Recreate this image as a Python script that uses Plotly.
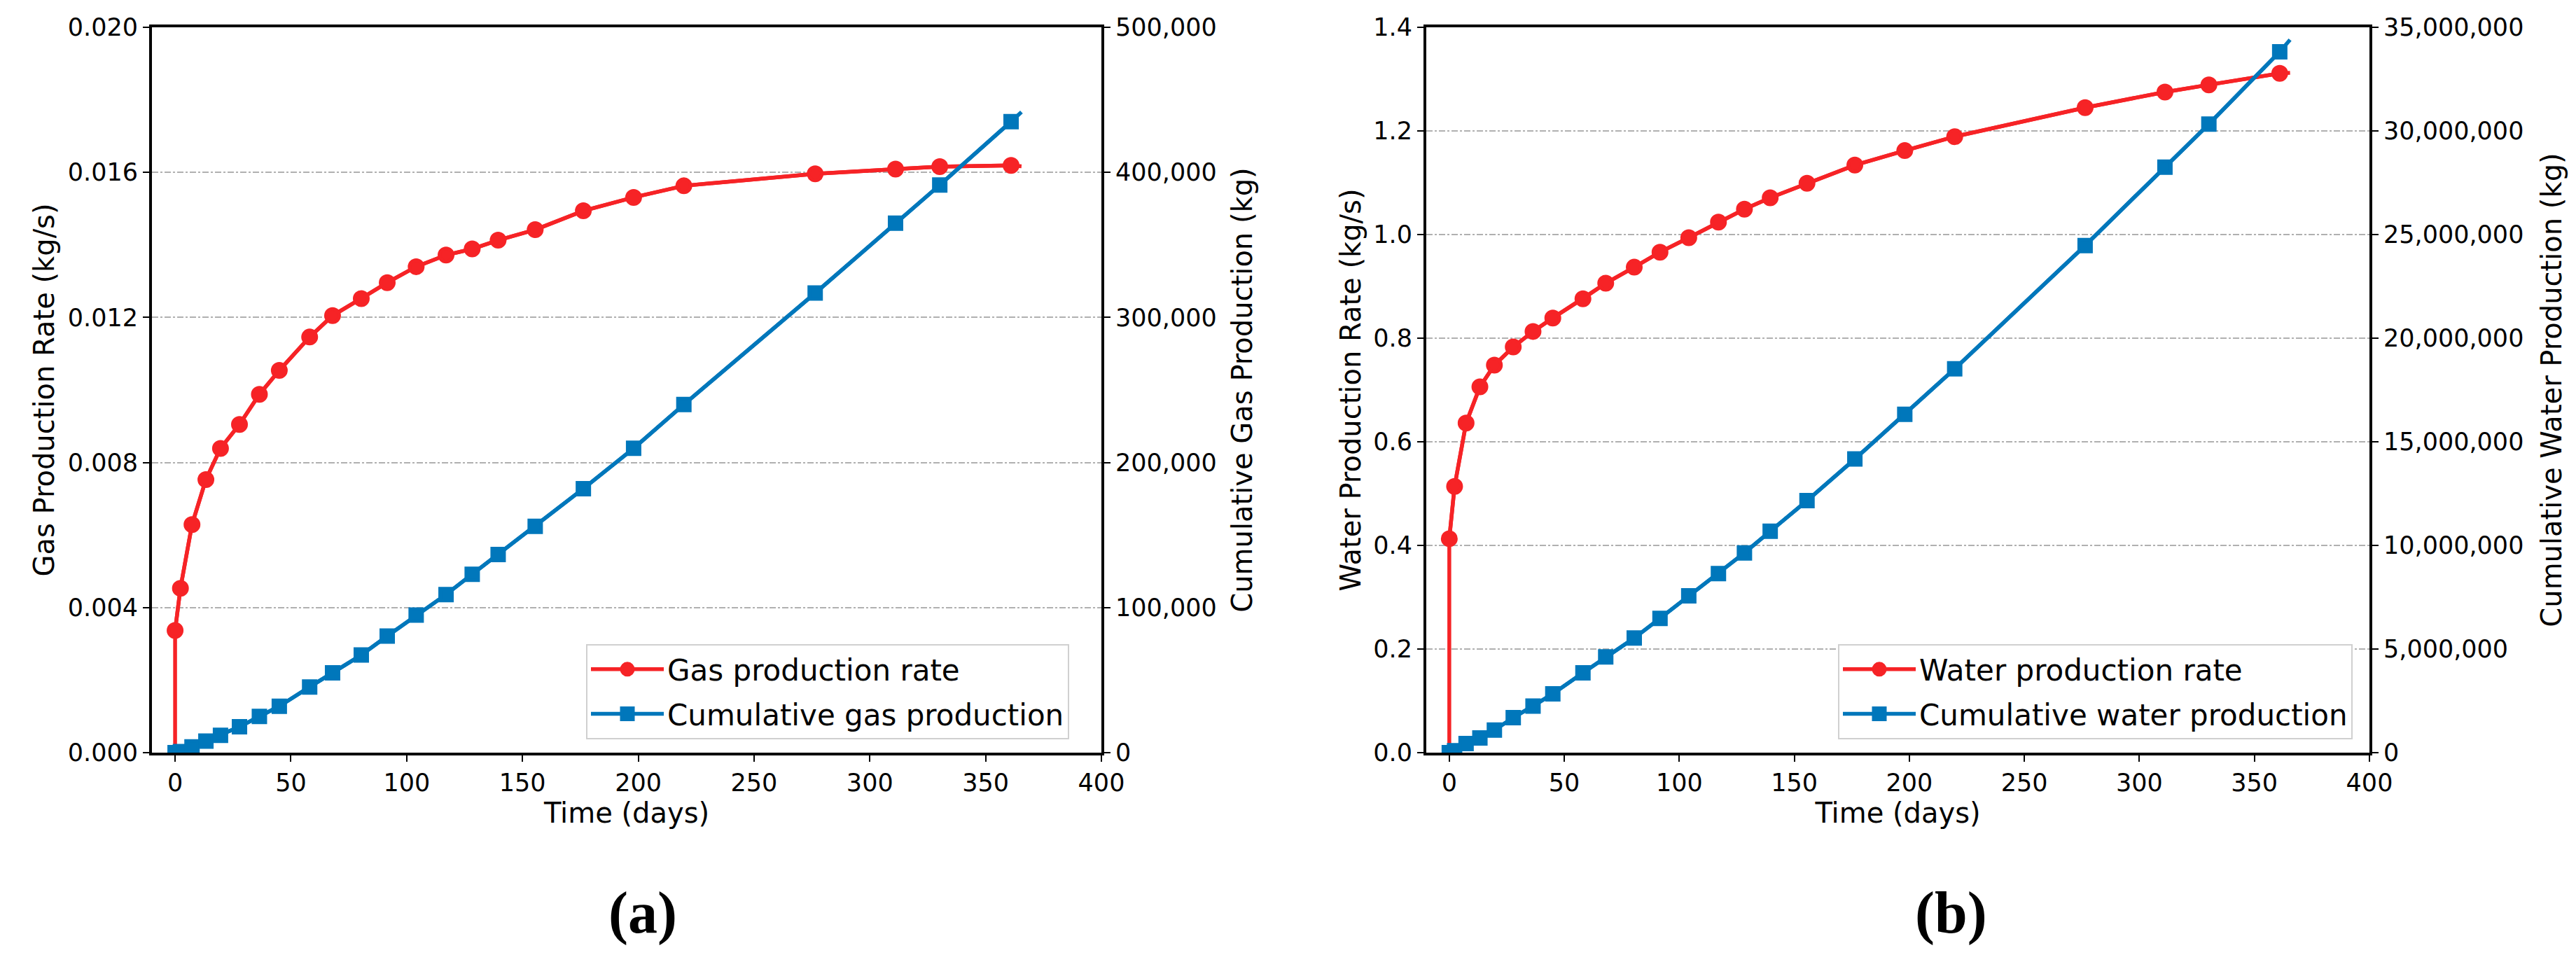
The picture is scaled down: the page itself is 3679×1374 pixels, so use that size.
import plotly.graph_objects as go
from plotly.subplots import make_subplots

# ---------------- data ----------------
time_days = [0, 2.3, 7.3, 13.3, 19.6, 27.8, 36.4, 45.0, 58.1, 68.0, 80.4, 91.6,
             104.1, 117.0, 128.3, 139.5, 155.5, 176.3, 198.0, 219.7, 276.4,
             311.1, 330.2, 361.0]
time_end = 365.5

gas_rate = [0.00337, 0.00453, 0.00629, 0.00753, 0.00839, 0.00905, 0.00988,
            0.01054, 0.01146, 0.01205, 0.01252, 0.01296, 0.01340, 0.01372,
            0.01389, 0.01413, 0.01442, 0.01494, 0.01531, 0.01563, 0.01596,
            0.01609, 0.01616, 0.01619]
gas_rate_end = 0.01617

gas_cum = [0, 700, 4000, 8000, 12000, 17800, 25000, 32000, 45300, 55000,
           67300, 80400, 94800, 109000, 123000, 136600, 156000, 182000,
           209800, 240000, 316800, 365000, 391300, 435000]
gas_cum_end = 441600

water_rate = [0.413, 0.514, 0.636, 0.706, 0.748, 0.783, 0.813, 0.839, 0.876,
              0.906, 0.937, 0.966, 0.994, 1.024, 1.049, 1.071, 1.099, 1.134,
              1.162, 1.189, 1.245, 1.275, 1.289, 1.311]
water_rate_end = 1.312

water_cum = [0, 90000, 440000, 710000, 1090000, 1690000, 2250000, 2840000,
             3850000, 4620000, 5530000, 6480000, 7570000, 8640000, 9640000,
             10680000, 12160000, 14170000, 16330000, 18520000, 24470000,
             28250000, 30330000, 33820000]
water_cum_end = 34400000

x_ticks = [0, 50, 100, 150, 200, 250, 300, 350, 400]
gas_rate_ticks = [0.000, 0.004, 0.008, 0.012, 0.016, 0.020]
gas_cum_ticks = [0, 100000, 200000, 300000, 400000, 500000]
water_rate_ticks = [0.0, 0.2, 0.4, 0.6, 0.8, 1.0, 1.2, 1.4]
water_cum_ticks = [0, 5000000, 10000000, 15000000, 20000000, 25000000,
                   30000000, 35000000]

# ---------------- style ----------------
W, H = 3679, 1374
OFF = 8  # page body margin of the browser
RED = "#F62326"
BLUE = "#0077BB"
FONT = "DejaVu Sans"
TICK_SIZE = 35
TITLE_SIZE = 40
LEG_SIZE = 42
LW = 5.5
MLW = 5

def px_x(p):
    return (p - OFF) / W

def px_y(p):
    return 1 - (p - OFF) / H

fig = make_subplots(rows=1, cols=2,
                    specs=[[{"secondary_y": True}, {"secondary_y": True}]])

def add_pair(col, rate, rate_end, cum, cum_end, rate_name, cum_name, legend):
    t_rate_line = [0] + time_days + [time_end]
    r_line = [0] + rate + [rate_end]
    t_cum_line = time_days + [time_end]
    c_line = cum + [cum_end]
    g1 = legend + "_rate"
    g2 = legend + "_cum"
    fig.add_trace(go.Scatter(x=t_rate_line, y=r_line, mode="lines",
                             line=dict(color=RED, width=LW),
                             showlegend=False, legend=legend, legendgroup=g1),
                  row=1, col=col, secondary_y=False)
    fig.add_trace(go.Scatter(x=time_days, y=rate, mode="lines+markers",
                             name=rate_name, legend=legend, legendgroup=g1,
                             line=dict(color=RED, width=LW),
                             marker=dict(symbol="circle", size=19, color=RED,
                                         line=dict(color=RED, width=MLW))),
                  row=1, col=col, secondary_y=False)
    fig.add_trace(go.Scatter(x=t_cum_line, y=c_line, mode="lines",
                             line=dict(color=BLUE, width=LW),
                             showlegend=False, legend=legend, legendgroup=g2),
                  row=1, col=col, secondary_y=True)
    fig.add_trace(go.Scatter(x=time_days, y=cum, mode="lines+markers",
                             name=cum_name, legend=legend, legendgroup=g2,
                             line=dict(color=BLUE, width=LW),
                             marker=dict(symbol="square", size=17, color=BLUE,
                                         line=dict(color=BLUE, width=MLW))),
                  row=1, col=col, secondary_y=True)

add_pair(1, gas_rate, gas_rate_end, gas_cum, gas_cum_end,
         "Gas production rate", "Cumulative gas production", "legend")
add_pair(2, water_rate, water_rate_end, water_cum, water_cum_end,
         "Water production rate", "Cumulative water production", "legend2")

# domains (pixel positions of the reference plot frames)
y_dom = [px_y(1075), px_y(39)]
x_dom1 = [px_x(217), px_x(1573)]
x_dom2 = [px_x(2037), px_x(3384)]

tickfont = dict(family=FONT, size=TICK_SIZE, color="black")
titlefont = dict(family=FONT, size=TITLE_SIZE, color="black")
axis_common = dict(showline=True, linecolor="black", linewidth=4,
                   ticks="outside", ticklen=9, tickwidth=2, tickcolor="black",
                   tickfont=tickfont, zeroline=False, automargin=False)

fig.update_layout(
    xaxis=dict(domain=x_dom1, range=[-10, 400], tickvals=x_ticks,
               title=dict(text="Time (days)", font=titlefont, standoff=0),
               showgrid=False, mirror=True, **axis_common),
    xaxis2=dict(domain=x_dom2, range=[-10, 400], tickvals=x_ticks,
                title=dict(text="Time (days)", font=titlefont, standoff=0),
                showgrid=False, mirror=True, **axis_common),
    yaxis=dict(domain=y_dom, range=[0, 0.020], tickvals=gas_rate_ticks,
               tickformat=".3f",
               title=dict(text="Gas Production Rate (kg/s)", font=titlefont,
                          standoff=8),
               showgrid=True, gridcolor="#B0B0B0", gridwidth=1.5,
               griddash="dashdot", **axis_common),
    yaxis2=dict(range=[0, 500000], tickvals=gas_cum_ticks, tickformat=",d",
                title=dict(text="Cumulative Gas Production (kg)", font=titlefont,
                           standoff=24),
                showgrid=False, **axis_common),
    yaxis3=dict(domain=y_dom, range=[0, 1.4], tickvals=water_rate_ticks,
                tickformat=".1f",
                title=dict(text="Water Production Rate (kg/s)", font=titlefont,
                           standoff=6),
                showgrid=True, gridcolor="#B0B0B0", gridwidth=1.5,
                griddash="dashdot", **axis_common),
    yaxis4=dict(range=[0, 35000000], tickvals=water_cum_ticks, tickformat=",d",
                title=dict(text="Cumulative Water Production (kg)",
                           font=titlefont, standoff=28),
                showgrid=False, **axis_common),
)

legend_common = dict(font=dict(family=FONT, size=LEG_SIZE, color="black"),
                     bgcolor="white", bordercolor="#D0D0D0", borderwidth=2,
                     xanchor="right", yanchor="bottom", itemwidth=104,
                     traceorder="grouped", tracegroupgap=6)
fig.update_layout(
    legend=dict(x=px_x(1527), y=px_y(1056), **legend_common),
    legend2=dict(x=px_x(3360), y=px_y(1056), **legend_common),
)

fig.add_annotation(text="<b>(a)</b>", x=px_x(918), y=px_y(1304),
                   xref="paper", yref="paper", showarrow=False,
                   xanchor="center", yanchor="middle",
                   font=dict(family="Liberation Serif", size=84, color="black"))
fig.add_annotation(text="<b>(b)</b>", x=px_x(2786), y=px_y(1304),
                   xref="paper", yref="paper", showarrow=False,
                   xanchor="center", yanchor="middle",
                   font=dict(family="Liberation Serif", size=84, color="black"))

fig.update_layout(width=W, height=H, autosize=False,
                  margin=dict(l=0, r=0, t=0, b=0),
                  paper_bgcolor="white", plot_bgcolor="white",
                  font=dict(family=FONT, color="black"))

fig.write_html("out.html")
